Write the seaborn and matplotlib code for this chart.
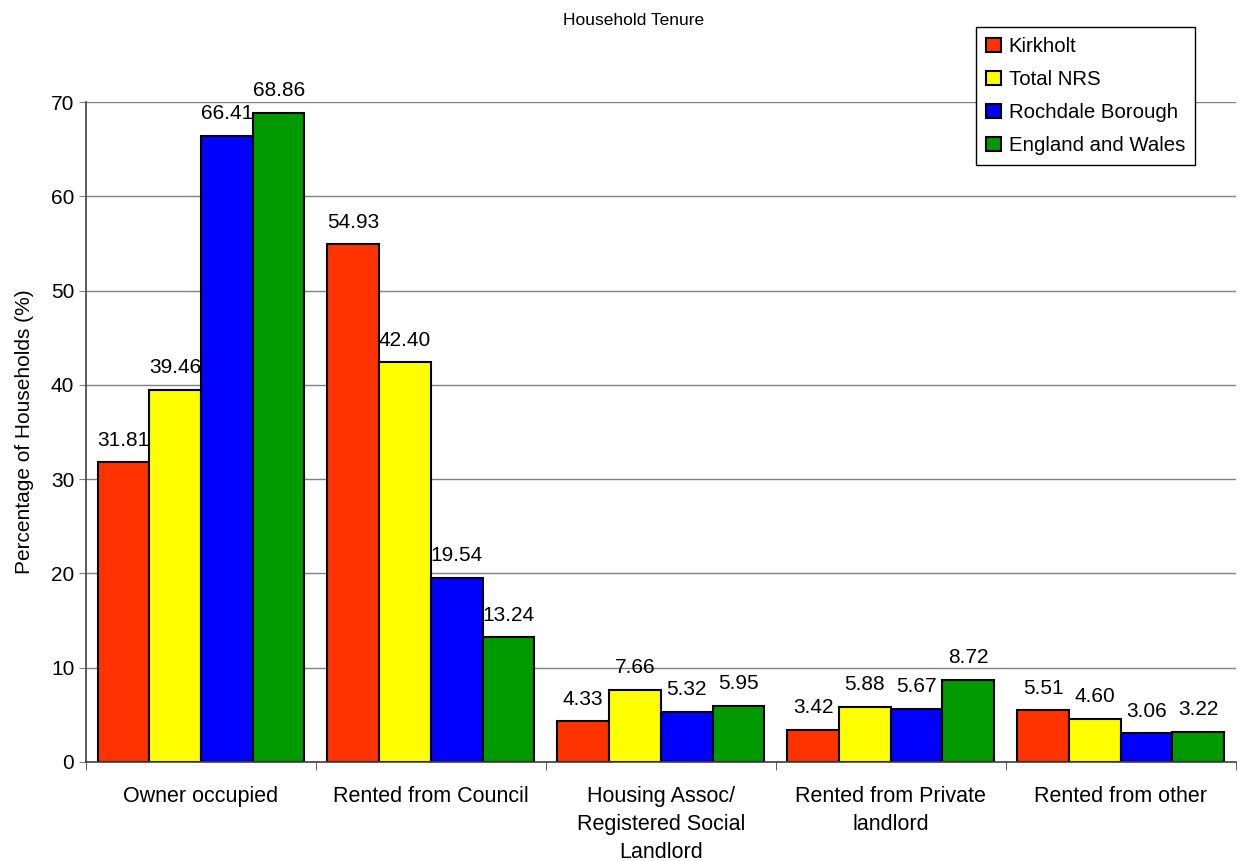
import numpy as np
import pandas as pd
import matplotlib
matplotlib.use("Agg")
import matplotlib.pyplot as plt
import seaborn as sns

categories = ["Owner occupied", "Rented from Council",
              "Housing Assoc/\nRegistered Social\nLandlord",
              "Rented from Private\nlandlord", "Rented from other"]
series = ["Kirkholt", "Total NRS", "Rochdale Borough", "England and Wales"]
kirkholt = [31.81, 54.93, 4.33, 3.42, 5.51]
total_nrs = [39.46, 42.40, 7.66, 5.88, 4.60]
rochdale = [66.41, 19.54, 5.32, 5.67, 3.06]
eng_wales = [68.86, 13.24, 5.95, 8.72, 3.22]
colors = ["#FF3300", "#FFFF00", "#0000FF", "#009900"]

rows = []
for name, vals in zip(series, [kirkholt, total_nrs, rochdale, eng_wales]):
    for cat, v in zip(categories, vals):
        rows.append({"Tenure": cat, "Area": name, "Value": v})
df = pd.DataFrame(rows)

sns.set_style("white")
plt.rcParams["font.family"] = ["Liberation Sans", "DejaVu Sans"]
plt.rcParams["text.color"] = "black"
plt.rcParams["axes.labelcolor"] = "black"
plt.rcParams["xtick.color"] = "black"
plt.rcParams["ytick.color"] = "black"

fig = plt.figure(figsize=(12.48, 8.61), dpi=100)
ax = fig.add_axes([0.069, 0.115, 0.921, 0.7665])

sns.barplot(data=df, x="Tenure", y="Value", hue="Area", order=categories,
            hue_order=series, palette=colors, width=0.9, gap=0,
            edgecolor="black", linewidth=1.5, saturation=1, ax=ax)

for cont in ax.containers:
    ax.bar_label(cont, fmt="%.2f", padding=9, fontsize=15, color="black")

ax.set_ylim(0, 70)
ax.set_xlim(-0.5, len(categories) - 0.5)
ax.set_yticks(range(0, 71, 10))
ax.yaxis.grid(True, color="#808080", linewidth=1)
ax.set_axisbelow(True)
ax.set_xlabel("")
ax.set_ylabel("Percentage of Households (%)", fontsize=15, labelpad=12)
ax.tick_params(axis="y", labelsize=15, left=True, length=5, color="#808080",
               labelcolor="black")
ax.set_xticks(range(len(categories)))
ax.set_xticklabels(categories, fontsize=15.5, linespacing=1.42, color="black")
ax.tick_params(axis="x", bottom=False, pad=14)
ax.set_xticks(np.arange(-0.5, len(categories), 1), minor=True)
ax.tick_params(axis="x", which="minor", bottom=True, length=6, color="#404040")
for s in ["top", "right"]:
    ax.spines[s].set_visible(False)
for s in ["left", "bottom"]:
    ax.spines[s].set_color("#404040")
    ax.spines[s].set_linewidth(1.2)

fig.suptitle("Household Tenure", fontsize=12.5, y=0.985, x=0.508)
leg = ax.legend(loc="upper left", fontsize=14.7,
                frameon=True, fancybox=False, edgecolor="black",
                handlelength=0.7, handleheight=0.7, handletextpad=0.4,
                labelspacing=0.68, borderpad=0.5, borderaxespad=0,
                framealpha=1)
leg.get_frame().set_linewidth(1)
for t in leg.get_texts():
    t.set_color("black")
leg.set_bbox_to_anchor((976 / 1248, 834 / 861), transform=fig.transFigure)

fig.savefig("out.png", dpi=100)
